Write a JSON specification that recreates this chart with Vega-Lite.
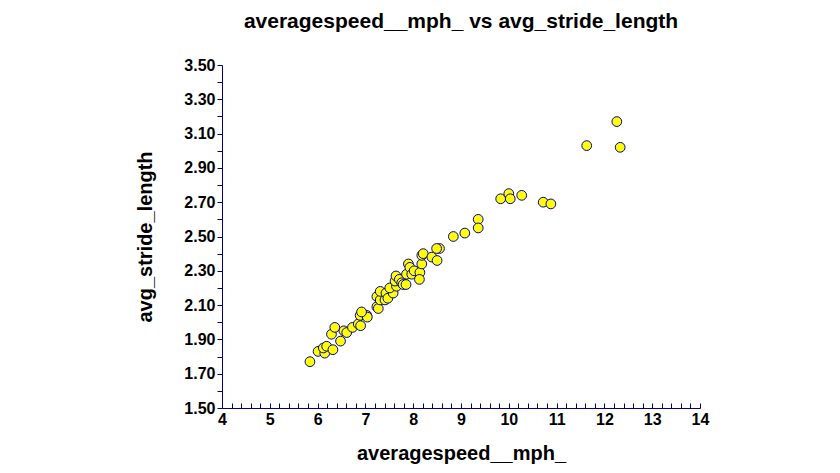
{
  "$schema": "https://vega.github.io/schema/vega-lite/v6.json",
  "autosize": "none",
  "width": 478,
  "height": 343,
  "padding": {"left": 222, "top": 65, "right": 140, "bottom": 65},
  "background": "white",
  "title": {
    "text": "averagespeed__mph_ vs avg_stride_length",
    "font": "Liberation Sans",
    "fontSize": 21,
    "fontWeight": "bold",
    "color": "black",
    "anchor": "middle",
    "offset": 25
  },
  "config": {
    "view": {"stroke": null},
    "axis": {
      "grid": false,
      "domainColor": "#000080",
      "tickColor": "#000080",
      "labelFont": "Liberation Sans",
      "labelFontWeight": "bold",
      "labelFontSize": 16,
      "labelColor": "black",
      "titleFont": "Liberation Sans",
      "titleFontWeight": "bold",
      "titleFontSize": 20,
      "titleColor": "black"
    }
  },
  "data": {
    "values": [
      {"speed": 5.84, "stride": 1.77},
      {"speed": 6.01, "stride": 1.83},
      {"speed": 6.15, "stride": 1.82},
      {"speed": 6.12, "stride": 1.85},
      {"speed": 6.19, "stride": 1.86},
      {"speed": 6.32, "stride": 1.84},
      {"speed": 6.29, "stride": 1.93},
      {"speed": 6.36, "stride": 1.97},
      {"speed": 6.48, "stride": 1.89},
      {"speed": 6.55, "stride": 1.95},
      {"speed": 6.61, "stride": 1.94},
      {"speed": 6.73, "stride": 1.97},
      {"speed": 6.85, "stride": 1.99},
      {"speed": 6.90, "stride": 1.98},
      {"speed": 6.89, "stride": 2.04},
      {"speed": 7.03, "stride": 2.04},
      {"speed": 7.04, "stride": 2.03},
      {"speed": 6.92, "stride": 2.06},
      {"speed": 7.24, "stride": 2.09},
      {"speed": 7.27, "stride": 2.08},
      {"speed": 7.24, "stride": 2.15},
      {"speed": 7.31, "stride": 2.13},
      {"speed": 7.31, "stride": 2.18},
      {"speed": 7.41, "stride": 2.13},
      {"speed": 7.43, "stride": 2.17},
      {"speed": 7.47, "stride": 2.14},
      {"speed": 7.58, "stride": 2.17},
      {"speed": 7.51, "stride": 2.20},
      {"speed": 7.65, "stride": 2.21},
      {"speed": 7.62, "stride": 2.24},
      {"speed": 7.64, "stride": 2.27},
      {"speed": 7.71, "stride": 2.25},
      {"speed": 7.76, "stride": 2.23},
      {"speed": 7.79, "stride": 2.22},
      {"speed": 7.85, "stride": 2.22},
      {"speed": 7.86, "stride": 2.28},
      {"speed": 7.90, "stride": 2.34},
      {"speed": 7.93, "stride": 2.32},
      {"speed": 7.97, "stride": 2.28},
      {"speed": 8.02, "stride": 2.30},
      {"speed": 8.14, "stride": 2.29},
      {"speed": 8.13, "stride": 2.25},
      {"speed": 8.18, "stride": 2.34},
      {"speed": 8.18, "stride": 2.39},
      {"speed": 8.21, "stride": 2.40},
      {"speed": 8.39, "stride": 2.38},
      {"speed": 8.50, "stride": 2.36},
      {"speed": 8.55, "stride": 2.43},
      {"speed": 8.49, "stride": 2.43},
      {"speed": 8.84, "stride": 2.50},
      {"speed": 9.08, "stride": 2.52},
      {"speed": 9.36, "stride": 2.60},
      {"speed": 9.36, "stride": 2.55},
      {"speed": 9.83, "stride": 2.72},
      {"speed": 10.00, "stride": 2.75},
      {"speed": 10.03, "stride": 2.72},
      {"speed": 10.27, "stride": 2.74},
      {"speed": 10.72, "stride": 2.70},
      {"speed": 10.88, "stride": 2.69},
      {"speed": 11.63, "stride": 3.03},
      {"speed": 12.26, "stride": 3.17},
      {"speed": 12.33, "stride": 3.02}
    ]
  },
  "mark": {
    "type": "point",
    "filled": true,
    "fill": "#FFFF00",
    "stroke": "#0000A0",
    "strokeWidth": 1,
    "size": 95,
    "opacity": 1
  },
  "encoding": {
    "x": {
      "field": "speed",
      "type": "quantitative",
      "scale": {"domain": [4, 14], "nice": false, "zero": false},
      "axis": {
        "title": "averagespeed__mph_",
        "values": [4,4.2,4.4,4.6,4.8,5,5.2,5.4,5.6,5.8,6,6.2,6.4,6.6,6.8,7,7.2,7.4,7.6,7.8,8,8.2,8.4,8.6,8.8,9,9.2,9.4,9.6,9.8,10,10.2,10.4,10.6,10.8,11,11.2,11.4,11.6,11.8,12,12.2,12.4,12.6,12.8,13,13.2,13.4,13.6,13.8,14],
        "labelExpr": "abs(datum.value - round(datum.value)) < 0.01 ? format(datum.value, 'd') : ''",
        "tickSize": -5,
        "labelPadding": 8,
        "labelFlush": false,
        "labelOverlap": false,
        "titlePadding": 16
      }
    },
    "y": {
      "field": "stride",
      "type": "quantitative",
      "scale": {"domain": [1.5, 3.5], "nice": false, "zero": false},
      "axis": {
        "title": "avg_stride_length",
        "values": [1.5,1.6,1.7,1.8,1.9,2.0,2.1,2.2,2.3,2.4,2.5,2.6,2.7,2.8,2.9,3.0,3.1,3.2,3.3,3.4,3.5],
        "labelExpr": "round(datum.value * 10) % 2 == 1 ? format(datum.value, '.2f') : ''",
        "tickSize": 5,
        "labelPadding": 2,
        "labelFlush": false,
        "labelOverlap": false,
        "titlePadding": 28
      }
    }
  }
}
